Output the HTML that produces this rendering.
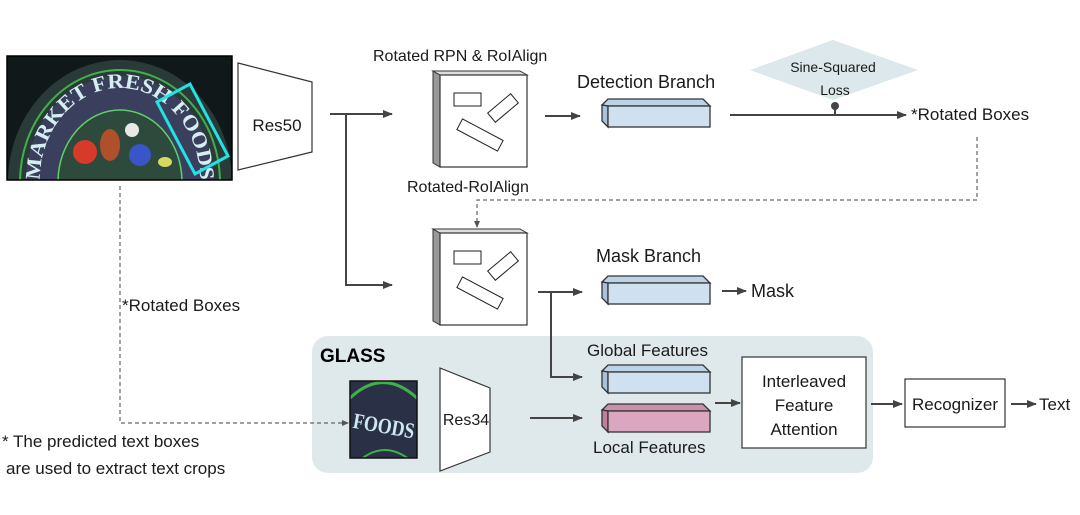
<!DOCTYPE html>
<html><head><meta charset="utf-8"><style>
html,body{margin:0;padding:0;background:#fff;}
svg{display:block;font-family:"Liberation Sans","DejaVu Sans",sans-serif;}
</style></head><body>
<svg width="1080" height="515" viewBox="0 0 1080 515" xmlns="http://www.w3.org/2000/svg" fill="#1a1a1a">
<defs>
<marker id="ah" markerWidth="10" markerHeight="8" refX="9" refY="4" orient="auto" markerUnits="userSpaceOnUse"><path d="M0,0 L10,4 L0,8 z" fill="#444"/></marker>
<marker id="ahs" markerWidth="7" markerHeight="6" refX="6" refY="3" orient="auto" markerUnits="userSpaceOnUse"><path d="M0,0 L7,3 L0,6 z" fill="#555"/></marker>
<path id="arc1" d="M40,180 A80,92 0 0 1 200,180"/>
<clipPath id="cp1"><rect x="7" y="56" width="225" height="124"/></clipPath>
<clipPath id="cp2"><rect x="350" y="381" width="67" height="77"/></clipPath>
<g id="cube">
<polygon points="433,71 440,75 440,167 433,163" fill="#999" stroke="#333"/>
<polygon points="433,71 520,71 527,75 440,75" fill="#ddd" stroke="#333"/>
<rect x="440" y="75" width="87" height="92" fill="#fff" stroke="#333" stroke-width="1.2"/>
<rect x="454" y="93" width="27" height="13" fill="#fff" stroke="#222"/>
<rect x="488" y="102" width="30" height="12" fill="#fff" stroke="#222" transform="rotate(-40 503 108)"/>
<rect x="457" y="129" width="46" height="12" fill="#fff" stroke="#222" transform="rotate(28 480 135)"/>
</g>
<g id="barB">
<polygon points="602,105 608,99 703,99 710,106 608,106" fill="#bcd2e6" stroke="#333" stroke-width="1.3"/>
<polygon points="602,105 608,106 608,127 602,121" fill="#a9c2da" stroke="#333" stroke-width="1.3"/>
<rect x="608" y="106" width="102" height="21" fill="#cfe0f0" stroke="#333" stroke-width="1.3"/>
</g>
<g id="barP">
<polygon points="602,105 608,99 703,99 710,106 608,106" fill="#c98fab" stroke="#333" stroke-width="1.3"/>
<polygon points="602,105 608,106 608,127 602,121" fill="#c07f9e" stroke="#333" stroke-width="1.3"/>
<rect x="608" y="106" width="102" height="21" fill="#dba6bf" stroke="#333" stroke-width="1.3"/>
</g>
</defs>

<!-- GLASS panel -->
<rect x="312" y="336" width="561" height="137" rx="16" fill="#dfe9ec"/>
<text x="320" y="362" font-size="19" font-weight="bold" fill="#000">GLASS</text>

<!-- photo -->
<g clip-path="url(#cp1)">
<rect x="7" y="56" width="225" height="124" fill="#10181a"/>
<path d="M8,182 A112,122 0 0 1 232,182 Z" fill="#2a3a38"/>
<path d="M20,182 A100,112 0 0 1 220,182" fill="none" stroke="#3fb04a" stroke-width="2"/>
<path d="M26,182 A94,106 0 0 1 214,182 Z" fill="#3a3f5e"/>
<path d="M58,182 A62,72 0 0 1 182,182 Z" fill="#2e4a3c" stroke="#5fcf6a" stroke-width="1.5"/>
<circle cx="85" cy="152" r="12" fill="#d83a2a"/>
<ellipse cx="110" cy="145" rx="10" ry="16" fill="#b0502a"/>
<circle cx="140" cy="155" r="11" fill="#3a55c8"/>
<circle cx="132" cy="130" r="7" fill="#e8e8e8"/>
<ellipse cx="165" cy="162" rx="7" ry="5" fill="#d8d860"/>
<text font-size="21" font-weight="bold" style="fill:#d6eef2" font-family="Liberation Serif,serif"><textPath href="#arc1" textLength="270" lengthAdjust="spacingAndGlyphs">MARKET FRESH FOODS</textPath></text>
<polygon points="157,102 190,84 228,156 195,174" fill="none" stroke="#22e3e3" stroke-width="3"/>
</g>
<rect x="7" y="56" width="225" height="124" fill="none" stroke="#000" stroke-width="1.5"/>

<!-- Res50 -->
<polygon points="238,63 312,82 312,152 238,170" fill="#fff" stroke="#333" stroke-width="1.2"/>
<text x="277" y="131" font-size="17" text-anchor="middle">Res50</text>

<!-- branch lines -->
<path d="M330,114 H392" stroke="#444" stroke-width="2" fill="none" marker-end="url(#ah)"/>
<path d="M346,114 V285 H392" stroke="#444" stroke-width="2" fill="none" marker-end="url(#ah)"/>

<!-- cubes -->
<text x="373" y="61" font-size="16">Rotated RPN &amp; RoIAlign</text>
<use href="#cube"/>
<text x="407" y="192" font-size="16">Rotated-RoIAlign</text>
<use href="#cube" transform="translate(0,158)"/>

<!-- detection branch -->
<path d="M545,116 H580" stroke="#444" stroke-width="2" marker-end="url(#ah)"/>
<text x="577" y="88" font-size="18">Detection Branch</text>
<use href="#barB"/>
<!-- diamond -->
<polygon points="750,70 833,40 918,70 833,100" fill="#dce8eb"/>
<text x="833" y="72" font-size="14" text-anchor="middle">Sine-Squared</text>
<text x="835" y="95" font-size="14" text-anchor="middle">Loss</text>
<path d="M730,115 H906" stroke="#444" stroke-width="2" marker-end="url(#ah)"/>
<line x1="835" y1="106" x2="835" y2="115" stroke="#444" stroke-width="2"/>
<circle cx="835" cy="106" r="4" fill="#444"/>
<text x="911" y="120" font-size="17">*Rotated Boxes</text>

<!-- dashed feedback -->
<path d="M977,137 V200 H477 V227" stroke="#666" stroke-width="1.2" stroke-dasharray="4,3" fill="none" marker-end="url(#ahs)"/>

<!-- mask branch -->
<path d="M538,292 H551 V377 H582" stroke="#444" stroke-width="2" fill="none" marker-end="url(#ah)"/>
<path d="M551,292 H582" stroke="#444" stroke-width="2" marker-end="url(#ah)"/>
<text x="596" y="262" font-size="18">Mask Branch</text>
<use href="#barB" transform="translate(0,177)"/>
<path d="M722,291 H746" stroke="#444" stroke-width="2" marker-end="url(#ah)"/>
<text x="751" y="297" font-size="18">Mask</text>

<!-- left dashed -->
<path d="M120,186 V423 H348" stroke="#666" stroke-width="1.2" stroke-dasharray="4,3" fill="none" marker-end="url(#ahs)"/>
<text x="122" y="311" font-size="17">*Rotated Boxes</text>
<text x="2" y="447" font-size="17">* The predicted text boxes</text>
<text x="6" y="474" font-size="17">are used to extract text crops</text>

<!-- foods crop -->
<g clip-path="url(#cp2)">
<rect x="350" y="381" width="67" height="77" fill="#2a3045"/>
<path d="M348,400 Q383,365 419,400" stroke="#3fb04a" stroke-width="3" fill="none"/>
<path d="M360,460 Q385,440 410,460" stroke="#3fb04a" stroke-width="2" fill="none"/>
<text x="353" y="433" font-size="22" font-weight="bold" style="fill:#cde8f0" font-family="Liberation Serif,serif" textLength="62" lengthAdjust="spacingAndGlyphs" transform="rotate(10 383 425)">FOODS</text>
</g>
<rect x="350" y="381" width="67" height="77" fill="none" stroke="#111" stroke-width="1.5"/>

<!-- Res34 -->
<polygon points="440,368 490,388 490,452 440,471" fill="#fff" stroke="#333" stroke-width="1.2"/>
<text x="466" y="425" font-size="16" text-anchor="middle">Res34</text>
<path d="M530,418 H582" stroke="#444" stroke-width="2" marker-end="url(#ah)"/>

<!-- features -->
<text x="587" y="356" font-size="17">Global Features</text>
<use href="#barB" transform="translate(0,266)"/>
<use href="#barP" transform="translate(0,305)"/>
<text x="593" y="453" font-size="17">Local Features</text>

<path d="M715,403 H740" stroke="#444" stroke-width="2" marker-end="url(#ah)"/>
<rect x="742" y="357" width="124" height="91" fill="#fff" stroke="#333" stroke-width="1.2"/>
<text x="804" y="387" font-size="17" text-anchor="middle">Interleaved</text>
<text x="804" y="411" font-size="17" text-anchor="middle">Feature</text>
<text x="804" y="435" font-size="17" text-anchor="middle">Attention</text>
<path d="M871,404 H902" stroke="#444" stroke-width="2" marker-end="url(#ah)"/>
<rect x="905" y="379" width="100" height="48" fill="#fff" stroke="#333" stroke-width="1.2"/>
<text x="955" y="410" font-size="17" text-anchor="middle">Recognizer</text>
<path d="M1011,404 H1036" stroke="#444" stroke-width="2" marker-end="url(#ah)"/>
<text x="1039" y="410" font-size="17">Text</text>
</svg>
</body></html>
